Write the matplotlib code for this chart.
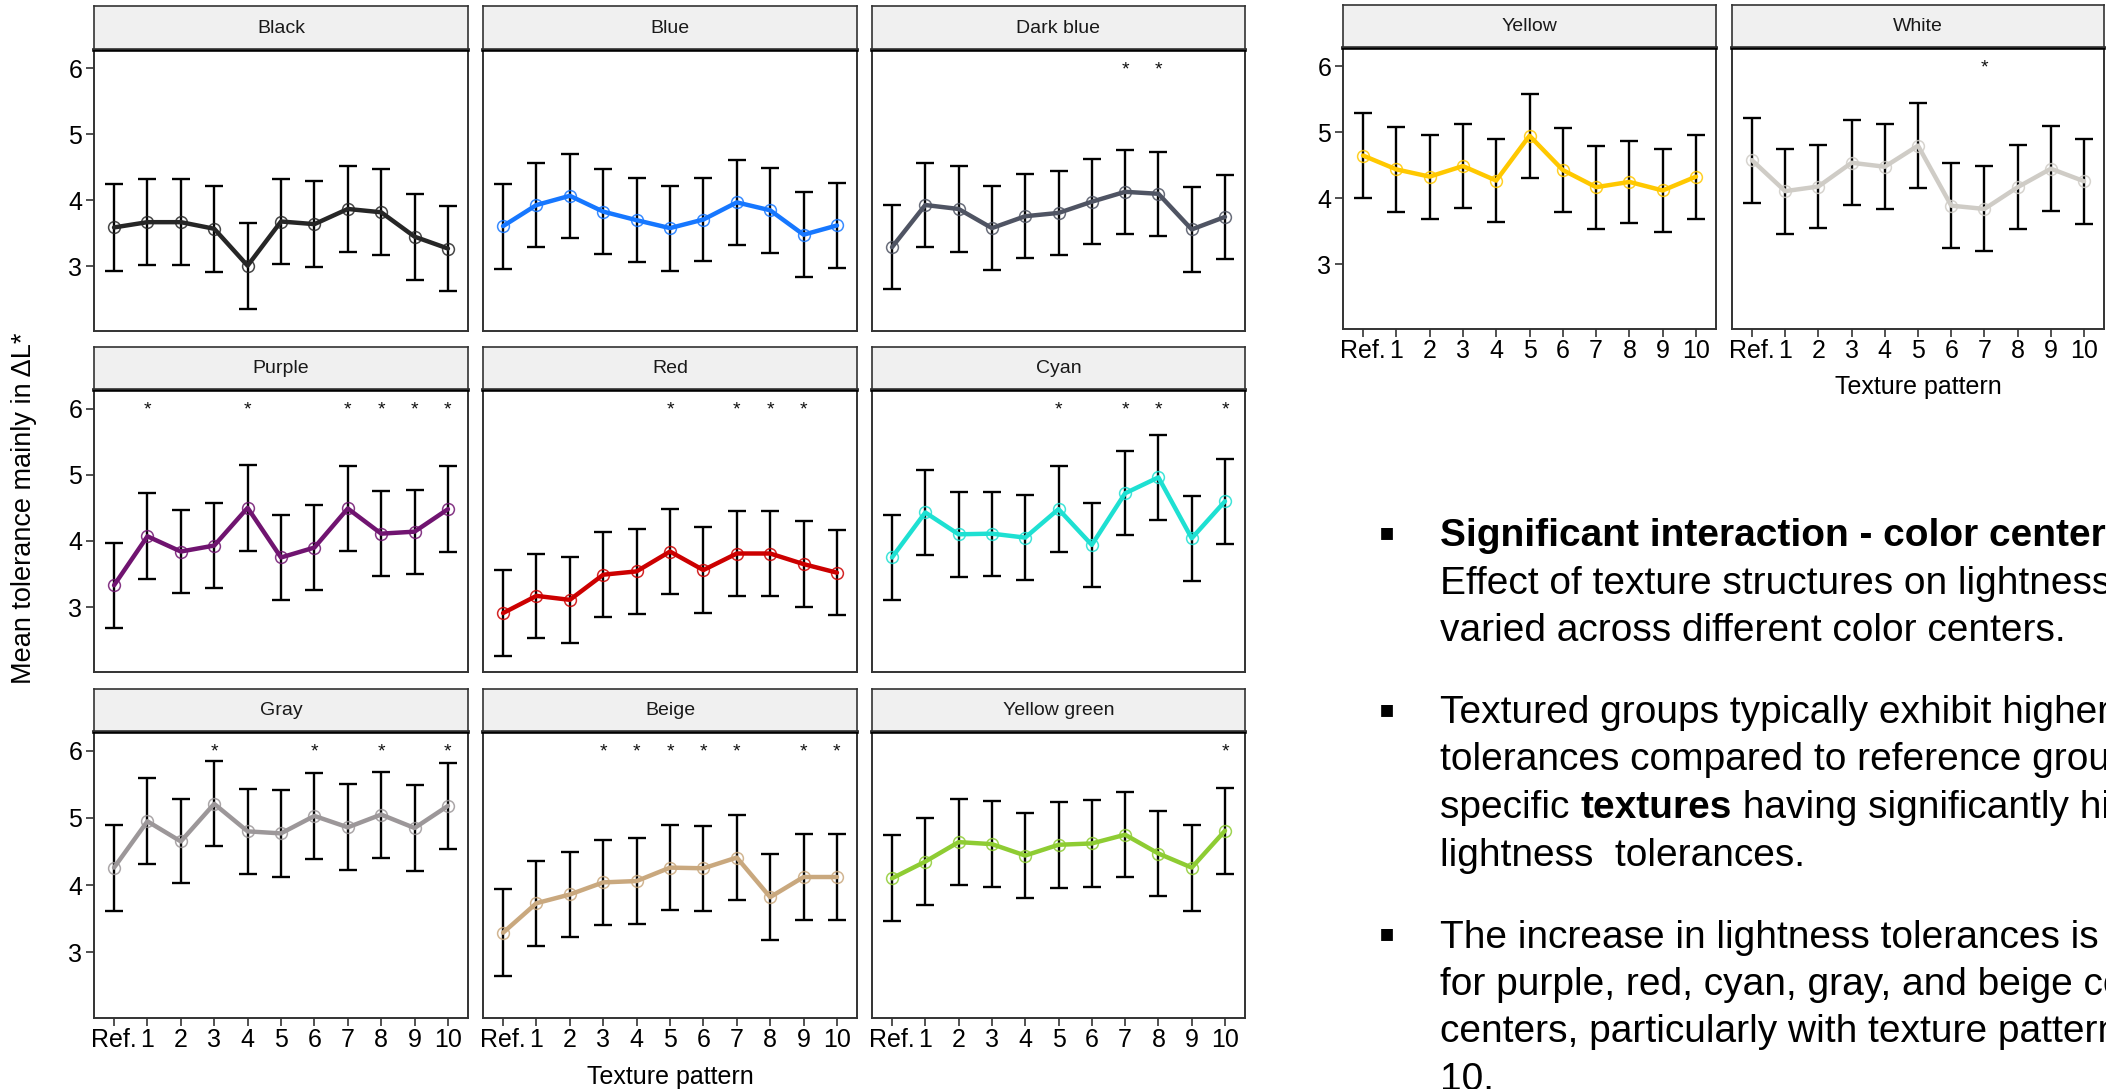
import matplotlib
matplotlib.use("Agg")
import matplotlib.pyplot as plt

plt.rcParams['font.family'] = ['Liberation Sans', 'DejaVu Sans']

# ---- data -------------------------------------------------------------
patterns = ["Ref.", "1", "2", "3", "4", "5", "6", "7", "8", "9", "10"]

black_mean = [3.59, 3.67, 3.67, 3.57, 3.01, 3.68, 3.64, 3.87, 3.82, 3.45, 3.27]
black_ci = [0.655, 0.65, 0.65, 0.65, 0.65, 0.65, 0.65, 0.65, 0.65, 0.65, 0.645]
black_sig = []

blue_mean = [3.61, 3.93, 4.07, 3.83, 3.70, 3.58, 3.71, 3.97, 3.85, 3.48, 3.62]
blue_ci = [0.645, 0.64, 0.64, 0.64, 0.64, 0.645, 0.635, 0.645, 0.64, 0.64, 0.64]
blue_sig = []

darkblue_mean = [3.29, 3.93, 3.87, 3.58, 3.76, 3.81, 3.98, 4.13, 4.10, 3.56, 3.75]
darkblue_ci = [0.635, 0.64, 0.645, 0.635, 0.64, 0.64, 0.645, 0.635, 0.64, 0.64, 0.64]
darkblue_sig = [7, 8]

purple_mean = [3.33, 4.07, 3.84, 3.93, 4.50, 3.75, 3.90, 4.49, 4.11, 4.14, 4.48]
purple_ci = [0.64, 0.65, 0.62, 0.64, 0.645, 0.64, 0.645, 0.64, 0.64, 0.635, 0.645]
purple_sig = [1, 4, 7, 8, 9, 10]

red_mean = [2.91, 3.17, 3.11, 3.49, 3.54, 3.84, 3.56, 3.81, 3.81, 3.65, 3.52]
red_ci = [0.645, 0.64, 0.645, 0.645, 0.645, 0.64, 0.645, 0.635, 0.64, 0.65, 0.645]
red_sig = [5, 7, 8, 9]

cyan_mean = [3.75, 4.43, 4.10, 4.11, 4.05, 4.48, 3.94, 4.72, 4.96, 4.04, 4.60]
cyan_ci = [0.635, 0.635, 0.645, 0.635, 0.64, 0.645, 0.64, 0.635, 0.64, 0.64, 0.64]
cyan_sig = [5, 7, 8, 10]

gray_mean = [4.26, 4.95, 4.65, 5.21, 4.80, 4.77, 5.03, 4.86, 5.05, 4.85, 5.18]
gray_ci = [0.64, 0.64, 0.625, 0.635, 0.635, 0.645, 0.645, 0.64, 0.64, 0.64, 0.64]
gray_sig = [3, 6, 8, 10]

beige_mean = [3.29, 3.73, 3.86, 4.04, 4.06, 4.26, 4.25, 4.41, 3.82, 4.12, 4.12]
beige_ci = [0.645, 0.635, 0.635, 0.63, 0.64, 0.63, 0.63, 0.635, 0.64, 0.635, 0.645]
beige_sig = [3, 4, 5, 6, 7, 9, 10]

ygreen_mean = [4.10, 4.35, 4.64, 4.61, 4.44, 4.60, 4.62, 4.75, 4.47, 4.26, 4.81]
ygreen_ci = [0.64, 0.645, 0.645, 0.64, 0.64, 0.64, 0.645, 0.635, 0.64, 0.64, 0.64]
ygreen_sig = [10]

yellow_mean = [4.65, 4.44, 4.33, 4.49, 4.27, 4.95, 4.43, 4.17, 4.25, 4.12, 4.33]
yellow_ci = [0.64, 0.64, 0.635, 0.635, 0.635, 0.64, 0.635, 0.63, 0.625, 0.635, 0.635]
yellow_sig = []

white_mean = [4.58, 4.11, 4.18, 4.54, 4.48, 4.80, 3.89, 3.84, 4.17, 4.45, 4.26]
white_ci = [0.645, 0.645, 0.635, 0.645, 0.645, 0.64, 0.64, 0.645, 0.635, 0.64, 0.645]
white_sig = [7]

STAR_Y = 6.08

bullet_1 = ["Significant interaction - color center",
            "Effect of texture structures on lightness",
            "varied across different color centers."]
bullet_2 = ["Textured groups typically exhibit higher",
            "tolerances compared to reference group,",
            ("specific ", "textures", " having significantly higher"),
            "lightness  tolerances."]
bullet_3 = ["The increase in lightness tolerances is",
            "for purple, red, cyan, gray, and beige color",
            "centers, particularly with texture patterns",
            "10."]

# ---- layout helpers (pixel boxes, origin at top-left) -----------------
W, H = 2106, 1089
fig = plt.figure(figsize=(W / 100, H / 100), dpi=100)
fig.patch.set_facecolor("white")


def box(x0, y0, x1, y1):
    return [x0 / W, 1 - y1 / H, (x1 - x0) / W, (y1 - y0) / H]


def fx(x):
    return x / W


def fy(y):
    return 1 - y / H


FRAME = "#333333"


def facet(x0, x1, strip_top, top, bottom, title, mean, ci, sig, color,
          show_y, show_x):
    ax = fig.add_axes(box(x0, top, x1, bottom))
    xs = list(range(len(patterns)))
    ax.errorbar(xs, mean, yerr=ci, fmt="none", ecolor="black",
                elinewidth=1.7, capsize=6.2, capthick=1.7, zorder=2)
    ax.plot(xs, mean, color=color, lw=3.2, zorder=3,
            solid_joinstyle="round", solid_capstyle="round")
    ax.plot(xs, mean, ls="none", marker="o", ms=8.5, mfc="none",
            mec=color, mew=1.1, alpha=0.85, zorder=4)
    for i in sig:
        ax.annotate("*", (i, STAR_Y), xytext=(0, -8),
                    textcoords="offset points", ha="center",
                    va="baseline", fontsize=14, color="#111111")
    ax.set_xlim(-0.6, 10.6)
    ax.set_ylim(2.02, 6.28)
    ax.set_yticks([3, 4, 5, 6])
    ax.set_xticks(xs)
    ax.set_xticklabels(patterns)
    for s in ("left", "right", "bottom"):
        ax.spines[s].set_color(FRAME)
        ax.spines[s].set_linewidth(1.4)
    ax.spines["top"].set_color("black")
    ax.spines["top"].set_linewidth(2.6)
    ax.tick_params(axis="both", length=5.5, width=1.2, color=FRAME,
                   labelsize=18, labelcolor="black")
    ax.tick_params(axis="y", pad=3)
    ax.tick_params(axis="x", pad=1.5)
    if not show_y:
        ax.tick_params(axis="y", left=False, labelleft=False)
    if not show_x:
        ax.tick_params(axis="x", bottom=False, labelbottom=False)

    st = fig.add_axes(box(x0, strip_top, x1, top - 1.5))
    st.set_facecolor("#F0F0F0")
    st.set_xticks([])
    st.set_yticks([])
    for s in st.spines.values():
        s.set_color(FRAME)
        s.set_linewidth(1.2)
    st.text(0.5, 0.47, title, ha="center", va="center", fontsize=14,
            color="#1A1A1A", transform=st.transAxes)
    return ax


# ---- 3 x 3 facet grid --------------------------------------------------
cols = [(94, 468), (483, 857), (872, 1245)]
rows = [(6, 50, 331), (347, 390, 672), (689, 732, 1018)]

grid = [
    ("Black", black_mean, black_ci, black_sig, "#262626"),
    ("Blue", blue_mean, blue_ci, blue_sig, "#1677FF"),
    ("Dark blue", darkblue_mean, darkblue_ci, darkblue_sig, "#4F5463"),
    ("Purple", purple_mean, purple_ci, purple_sig, "#701470"),
    ("Red", red_mean, red_ci, red_sig, "#CC0000"),
    ("Cyan", cyan_mean, cyan_ci, cyan_sig, "#1EE0D2"),
    ("Gray", gray_mean, gray_ci, gray_sig, "#9C9799"),
    ("Beige", beige_mean, beige_ci, beige_sig, "#C9A87E"),
    ("Yellow green", ygreen_mean, ygreen_ci, ygreen_sig, "#8ECC33"),
]

for k, (name, m, c, s, col) in enumerate(grid):
    r, cidx = divmod(k, 3)
    x0, x1 = cols[cidx]
    st, tp, bt = rows[r]
    facet(x0, x1, st, tp, bt, name, m, c, s, col,
          show_y=(cidx == 0), show_x=(r == 2))

fig.text(fx(670), fy(1077), "Texture pattern", ha="center", va="center",
         fontsize=18)
fig.text(fx(24), fy(508), "Mean tolerance mainly in \u0394L*", ha="center",
         va="center", rotation=90, fontsize=19.5)

# ---- Yellow / White facets ---------------------------------------------
facet(1343, 1716, 5, 48, 329, "Yellow", yellow_mean, yellow_ci, yellow_sig,
      "#FFC800", show_y=True, show_x=True)
facet(1732, 2104, 5, 48, 329, "White", white_mean, white_ci, white_sig,
      "#CFCCC6", show_y=False, show_x=True)
fig.text(fx(1918), fy(387), "Texture pattern", ha="center", va="center",
         fontsize=18)

# ---- bullet text ---------------------------------------------------------
renderer = fig.canvas.get_renderer()
TXT = 28
LINE = 47.5
PARA = 82
text_x = 1440
bullet_x = 1387


def width_px(s, **kw):
    t1 = fig.text(0, 0, s + "|", fontsize=TXT, **kw)
    t2 = fig.text(0, 0, "|", fontsize=TXT, **kw)
    w = t1.get_window_extent(renderer).width - t2.get_window_extent(renderer).width
    t1.remove()
    t2.remove()
    return w


def write_line(y_mid, content, bold=False):
    base = y_mid + 13
    if isinstance(content, tuple):
        x = text_x
        for j, piece in enumerate(content):
            wt = "bold" if j == 1 else "normal"
            fig.text(fx(x), fy(base), piece, fontsize=TXT, fontweight=wt,
                     ha="left", va="baseline")
            x += width_px(piece, fontweight=wt)
    else:
        fig.text(fx(text_x), fy(base), content, fontsize=TXT,
                 fontweight="bold" if bold else "normal",
                 ha="left", va="baseline")


def bullet(y_mid):
    fig.text(fx(bullet_x), fy(y_mid + 6), "\u25AA", fontsize=17,
             family="DejaVu Sans", ha="center", va="baseline")


y = 533
for p, para in enumerate([bullet_1, bullet_2, bullet_3]):
    bullet(y)
    for li, content in enumerate(para):
        write_line(y, content, bold=(p == 0 and li == 0))
        if li < len(para) - 1:
            y += LINE
    y += PARA

fig.savefig("out.png", dpi=100, facecolor="white")
